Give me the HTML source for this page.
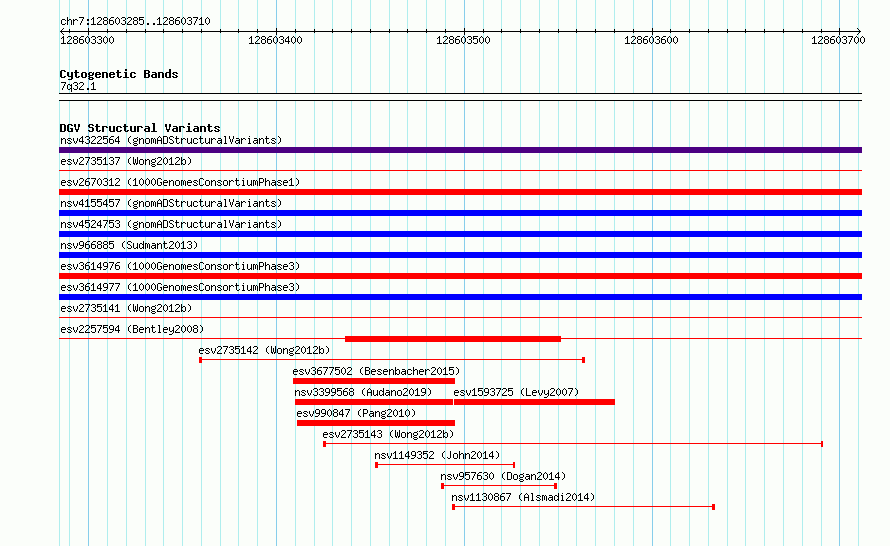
<!DOCTYPE html>
<html lang="en">
<head>
<meta charset="utf-8">
<title>chr7:128603285..128603710</title>
<style>
html,body{margin:0;padding:0;background:#fbfefa}
body{font-family:"Liberation Mono",monospace;overflow:hidden}
#panel{position:relative;width:890px;height:546px;overflow:hidden;background:#fbfefa}
#panel i{position:absolute;display:block}
.grid i{top:0;width:1px;height:546px}
.g{background:#afeeee}
.gm{background:#87ceeb}
.track,.f{margin:0;padding:0}
.t{position:absolute;height:13px;margin:0;padding:0;overflow:hidden;white-space:pre;line-height:13px}
.t svg{position:absolute;left:0;top:0;display:block;fill:#000;shape-rendering:crispEdges}
.t span{position:absolute;left:0;top:0;color:transparent;font-family:"Liberation Mono",monospace;font-size:10px;line-height:13px;font-weight:normal}
.tb span{font-size:11.667px;font-weight:bold}
.axis{position:absolute;height:1px;background:#000}
.d{width:1px;height:1px;background:#000}
.tk{width:1px;background:#000}
.band{position:absolute;box-sizing:content-box;background:#fbfefa;border-top:1px solid #000;border-bottom:1px solid #000}
.k{height:6px}
.n{height:1px}
.r{background:#f00}
.b{background:#00f}
.p{background:#4b0082}
</style>
</head>
<body>
<svg width="0" height="0" style="position:absolute" aria-hidden="true"><defs><path id="s40" d="M3 3h1v1h-1zM2 4h1v1h-1zM1 5h1v1h-1zM1 6h1v1h-1zM1 7h1v1h-1zM1 8h1v1h-1zM2 9h1v1h-1zM3 10h1v1h-1z"/><path id="s41" d="M1 3h1v1h-1zM2 4h1v1h-1zM3 5h1v1h-1zM3 6h1v1h-1zM3 7h1v1h-1zM3 8h1v1h-1zM2 9h1v1h-1zM1 10h1v1h-1z"/><path id="s46" d="M2 9h2v1h-2zM2 10h2v1h-2z"/><path id="s48" d="M2 3h1v1h-1zM1 4h1v1h-1zM3 4h1v1h-1zM0 5h1v1h-1zM4 5h1v1h-1zM0 6h1v1h-1zM4 6h1v1h-1zM0 7h1v1h-1zM4 7h1v1h-1zM0 8h1v1h-1zM4 8h1v1h-1zM1 9h1v1h-1zM3 9h1v1h-1zM2 10h1v1h-1z"/><path id="s49" d="M2 3h1v1h-1zM1 4h2v1h-2zM0 5h1v1h-1zM2 5h1v1h-1zM2 6h1v1h-1zM2 7h1v1h-1zM2 8h1v1h-1zM2 9h1v1h-1zM0 10h5v1h-5z"/><path id="s50" d="M1 3h3v1h-3zM0 4h1v1h-1zM4 4h1v1h-1zM4 5h1v1h-1zM3 6h1v1h-1zM2 7h1v1h-1zM1 8h1v1h-1zM0 9h1v1h-1zM0 10h5v1h-5z"/><path id="s51" d="M1 3h3v1h-3zM0 4h1v1h-1zM4 4h1v1h-1zM4 5h1v1h-1zM2 6h2v1h-2zM4 7h1v1h-1zM4 8h1v1h-1zM0 9h1v1h-1zM4 9h1v1h-1zM1 10h3v1h-3z"/><path id="s52" d="M3 3h1v1h-1zM2 4h2v1h-2zM1 5h1v1h-1zM3 5h1v1h-1zM0 6h1v1h-1zM3 6h1v1h-1zM0 7h1v1h-1zM3 7h1v1h-1zM0 8h5v1h-5zM3 9h1v1h-1zM3 10h1v1h-1z"/><path id="s53" d="M0 3h5v1h-5zM0 4h1v1h-1zM0 5h4v1h-4zM0 6h1v1h-1zM4 6h1v1h-1zM4 7h1v1h-1zM4 8h1v1h-1zM0 9h1v1h-1zM4 9h1v1h-1zM1 10h3v1h-3z"/><path id="s54" d="M2 3h3v1h-3zM1 4h1v1h-1zM0 5h1v1h-1zM0 6h4v1h-4zM0 7h1v1h-1zM4 7h1v1h-1zM0 8h1v1h-1zM4 8h1v1h-1zM0 9h1v1h-1zM4 9h1v1h-1zM1 10h3v1h-3z"/><path id="s55" d="M0 3h5v1h-5zM4 4h1v1h-1zM3 5h1v1h-1zM3 6h1v1h-1zM2 7h1v1h-1zM2 8h1v1h-1zM1 9h1v1h-1zM1 10h1v1h-1z"/><path id="s56" d="M1 3h3v1h-3zM0 4h1v1h-1zM4 4h1v1h-1zM0 5h1v1h-1zM4 5h1v1h-1zM1 6h3v1h-3zM0 7h1v1h-1zM4 7h1v1h-1zM0 8h1v1h-1zM4 8h1v1h-1zM0 9h1v1h-1zM4 9h1v1h-1zM1 10h3v1h-3z"/><path id="s57" d="M1 3h3v1h-3zM0 4h1v1h-1zM4 4h1v1h-1zM0 5h1v1h-1zM4 5h1v1h-1zM0 6h1v1h-1zM4 6h1v1h-1zM1 7h4v1h-4zM4 8h1v1h-1zM3 9h1v1h-1zM0 10h3v1h-3z"/><path id="s58" d="M2 5h2v1h-2zM2 6h2v1h-2zM2 9h2v1h-2zM2 10h2v1h-2z"/><path id="s65" d="M2 3h1v1h-1zM1 4h1v1h-1zM3 4h1v1h-1zM0 5h1v1h-1zM4 5h1v1h-1zM0 6h1v1h-1zM4 6h1v1h-1zM0 7h5v1h-5zM0 8h1v1h-1zM4 8h1v1h-1zM0 9h1v1h-1zM4 9h1v1h-1zM0 10h1v1h-1zM4 10h1v1h-1z"/><path id="s66" d="M0 3h4v1h-4zM0 4h1v1h-1zM4 4h1v1h-1zM0 5h1v1h-1zM4 5h1v1h-1zM0 6h4v1h-4zM0 7h1v1h-1zM4 7h1v1h-1zM0 8h1v1h-1zM4 8h1v1h-1zM0 9h1v1h-1zM4 9h1v1h-1zM0 10h4v1h-4z"/><path id="s67" d="M1 3h3v1h-3zM0 4h1v1h-1zM4 4h1v1h-1zM0 5h1v1h-1zM0 6h1v1h-1zM0 7h1v1h-1zM0 8h1v1h-1zM0 9h1v1h-1zM4 9h1v1h-1zM1 10h3v1h-3z"/><path id="s68" d="M0 3h4v1h-4zM0 4h1v1h-1zM4 4h1v1h-1zM0 5h1v1h-1zM4 5h1v1h-1zM0 6h1v1h-1zM4 6h1v1h-1zM0 7h1v1h-1zM4 7h1v1h-1zM0 8h1v1h-1zM4 8h1v1h-1zM0 9h1v1h-1zM4 9h1v1h-1zM0 10h4v1h-4z"/><path id="s71" d="M1 3h3v1h-3zM0 4h1v1h-1zM4 4h1v1h-1zM0 5h1v1h-1zM0 6h1v1h-1zM0 7h1v1h-1zM3 7h2v1h-2zM0 8h1v1h-1zM4 8h1v1h-1zM0 9h1v1h-1zM4 9h1v1h-1zM1 10h3v1h-3z"/><path id="s74" d="M3 3h1v1h-1zM3 4h1v1h-1zM3 5h1v1h-1zM3 6h1v1h-1zM3 7h1v1h-1zM3 8h1v1h-1zM0 9h1v1h-1zM3 9h1v1h-1zM1 10h2v1h-2z"/><path id="s76" d="M0 3h1v1h-1zM0 4h1v1h-1zM0 5h1v1h-1zM0 6h1v1h-1zM0 7h1v1h-1zM0 8h1v1h-1zM0 9h1v1h-1zM0 10h5v1h-5z"/><path id="s80" d="M0 3h4v1h-4zM0 4h1v1h-1zM4 4h1v1h-1zM0 5h1v1h-1zM4 5h1v1h-1zM0 6h1v1h-1zM4 6h1v1h-1zM0 7h4v1h-4zM0 8h1v1h-1zM0 9h1v1h-1zM0 10h1v1h-1z"/><path id="s83" d="M1 3h3v1h-3zM0 4h1v1h-1zM4 4h1v1h-1zM0 5h1v1h-1zM1 6h2v1h-2zM3 7h1v1h-1zM4 8h1v1h-1zM0 9h1v1h-1zM4 9h1v1h-1zM1 10h3v1h-3z"/><path id="s86" d="M0 3h1v1h-1zM4 3h1v1h-1zM0 4h1v1h-1zM4 4h1v1h-1zM0 5h1v1h-1zM4 5h1v1h-1zM1 6h1v1h-1zM3 6h1v1h-1zM1 7h1v1h-1zM3 7h1v1h-1zM1 8h1v1h-1zM3 8h1v1h-1zM2 9h1v1h-1zM2 10h1v1h-1z"/><path id="s87" d="M0 3h1v1h-1zM4 3h1v1h-1zM0 4h1v1h-1zM4 4h1v1h-1zM0 5h1v1h-1zM2 5h1v1h-1zM4 5h1v1h-1zM0 6h1v1h-1zM2 6h1v1h-1zM4 6h1v1h-1zM0 7h1v1h-1zM2 7h1v1h-1zM4 7h1v1h-1zM0 8h1v1h-1zM2 8h1v1h-1zM4 8h1v1h-1zM0 9h2v1h-2zM3 9h2v1h-2zM1 10h1v1h-1zM3 10h1v1h-1z"/><path id="s97" d="M1 5h3v1h-3zM4 6h1v1h-1zM1 7h4v1h-4zM0 8h1v1h-1zM4 8h1v1h-1zM0 9h1v1h-1zM3 9h2v1h-2zM1 10h2v1h-2zM4 10h1v1h-1z"/><path id="s98" d="M0 3h1v1h-1zM0 4h1v1h-1zM0 5h1v1h-1zM2 5h2v1h-2zM0 6h2v1h-2zM4 6h1v1h-1zM0 7h1v1h-1zM4 7h1v1h-1zM0 8h1v1h-1zM4 8h1v1h-1zM0 9h2v1h-2zM4 9h1v1h-1zM0 10h1v1h-1zM2 10h2v1h-2z"/><path id="s99" d="M1 5h3v1h-3zM0 6h1v1h-1zM4 6h1v1h-1zM0 7h1v1h-1zM0 8h1v1h-1zM0 9h1v1h-1zM4 9h1v1h-1zM1 10h3v1h-3z"/><path id="s100" d="M4 3h1v1h-1zM4 4h1v1h-1zM1 5h2v1h-2zM4 5h1v1h-1zM0 6h1v1h-1zM3 6h2v1h-2zM0 7h1v1h-1zM4 7h1v1h-1zM0 8h1v1h-1zM4 8h1v1h-1zM0 9h1v1h-1zM3 9h2v1h-2zM1 10h2v1h-2zM4 10h1v1h-1z"/><path id="s101" d="M1 5h3v1h-3zM0 6h1v1h-1zM4 6h1v1h-1zM0 7h5v1h-5zM0 8h1v1h-1zM0 9h1v1h-1zM1 10h3v1h-3z"/><path id="s103" d="M4 4h1v1h-1zM1 5h3v1h-3zM0 6h1v1h-1zM4 6h1v1h-1zM0 7h1v1h-1zM4 7h1v1h-1zM1 8h3v1h-3zM0 9h1v1h-1zM1 10h3v1h-3zM0 11h1v1h-1zM4 11h1v1h-1zM1 12h3v1h-3z"/><path id="s104" d="M0 3h1v1h-1zM0 4h1v1h-1zM0 5h1v1h-1zM2 5h2v1h-2zM0 6h2v1h-2zM4 6h1v1h-1zM0 7h1v1h-1zM4 7h1v1h-1zM0 8h1v1h-1zM4 8h1v1h-1zM0 9h1v1h-1zM4 9h1v1h-1zM0 10h1v1h-1zM4 10h1v1h-1z"/><path id="s105" d="M2 3h1v1h-1zM1 5h2v1h-2zM2 6h1v1h-1zM2 7h1v1h-1zM2 8h1v1h-1zM2 9h1v1h-1zM1 10h3v1h-3z"/><path id="s108" d="M1 3h2v1h-2zM2 4h1v1h-1zM2 5h1v1h-1zM2 6h1v1h-1zM2 7h1v1h-1zM2 8h1v1h-1zM2 9h1v1h-1zM1 10h3v1h-3z"/><path id="s109" d="M0 5h2v1h-2zM3 5h1v1h-1zM0 6h1v1h-1zM2 6h1v1h-1zM4 6h1v1h-1zM0 7h1v1h-1zM2 7h1v1h-1zM4 7h1v1h-1zM0 8h1v1h-1zM2 8h1v1h-1zM4 8h1v1h-1zM0 9h1v1h-1zM2 9h1v1h-1zM4 9h1v1h-1zM0 10h1v1h-1zM4 10h1v1h-1z"/><path id="s110" d="M0 5h1v1h-1zM2 5h2v1h-2zM0 6h2v1h-2zM4 6h1v1h-1zM0 7h1v1h-1zM4 7h1v1h-1zM0 8h1v1h-1zM4 8h1v1h-1zM0 9h1v1h-1zM4 9h1v1h-1zM0 10h1v1h-1zM4 10h1v1h-1z"/><path id="s111" d="M1 5h3v1h-3zM0 6h1v1h-1zM4 6h1v1h-1zM0 7h1v1h-1zM4 7h1v1h-1zM0 8h1v1h-1zM4 8h1v1h-1zM0 9h1v1h-1zM4 9h1v1h-1zM1 10h3v1h-3z"/><path id="s113" d="M1 5h2v1h-2zM4 5h1v1h-1zM0 6h1v1h-1zM3 6h2v1h-2zM0 7h1v1h-1zM4 7h1v1h-1zM0 8h1v1h-1zM4 8h1v1h-1zM0 9h1v1h-1zM3 9h2v1h-2zM1 10h2v1h-2zM4 10h1v1h-1zM4 11h1v1h-1zM4 12h1v1h-1z"/><path id="s114" d="M0 5h1v1h-1zM2 5h2v1h-2zM0 6h2v1h-2zM4 6h1v1h-1zM0 7h1v1h-1zM0 8h1v1h-1zM0 9h1v1h-1zM0 10h1v1h-1z"/><path id="s115" d="M1 5h3v1h-3zM0 6h1v1h-1zM4 6h1v1h-1zM1 7h2v1h-2zM3 8h1v1h-1zM0 9h1v1h-1zM4 9h1v1h-1zM1 10h3v1h-3z"/><path id="s116" d="M1 3h1v1h-1zM1 4h1v1h-1zM0 5h4v1h-4zM1 6h1v1h-1zM1 7h1v1h-1zM1 8h1v1h-1zM1 9h1v1h-1zM4 9h1v1h-1zM2 10h2v1h-2z"/><path id="s117" d="M0 5h1v1h-1zM4 5h1v1h-1zM0 6h1v1h-1zM4 6h1v1h-1zM0 7h1v1h-1zM4 7h1v1h-1zM0 8h1v1h-1zM4 8h1v1h-1zM0 9h1v1h-1zM3 9h2v1h-2zM1 10h2v1h-2zM4 10h1v1h-1z"/><path id="s118" d="M0 5h1v1h-1zM4 5h1v1h-1zM0 6h1v1h-1zM4 6h1v1h-1zM0 7h1v1h-1zM4 7h1v1h-1zM1 8h1v1h-1zM3 8h1v1h-1zM1 9h1v1h-1zM3 9h1v1h-1zM2 10h1v1h-1z"/><path id="s121" d="M0 5h1v1h-1zM4 5h1v1h-1zM0 6h1v1h-1zM4 6h1v1h-1zM0 7h1v1h-1zM4 7h1v1h-1zM0 8h1v1h-1zM3 8h2v1h-2zM1 9h2v1h-2zM4 9h1v1h-1zM4 10h1v1h-1zM3 11h1v1h-1zM0 12h3v1h-3z"/><path id="m66" d="M0 3h5v1h-5zM0 4h2v1h-2zM4 4h2v1h-2zM0 5h2v1h-2zM4 5h2v1h-2zM0 6h5v1h-5zM0 7h2v1h-2zM4 7h2v1h-2zM0 8h2v1h-2zM4 8h2v1h-2zM0 9h2v1h-2zM4 9h2v1h-2zM0 10h5v1h-5z"/><path id="m67" d="M1 3h4v1h-4zM0 4h2v1h-2zM4 4h2v1h-2zM0 5h2v1h-2zM0 6h2v1h-2zM0 7h2v1h-2zM0 8h2v1h-2zM0 9h2v1h-2zM4 9h2v1h-2zM1 10h4v1h-4z"/><path id="m68" d="M0 3h5v1h-5zM0 4h2v1h-2zM4 4h2v1h-2zM0 5h2v1h-2zM4 5h2v1h-2zM0 6h2v1h-2zM4 6h2v1h-2zM0 7h2v1h-2zM4 7h2v1h-2zM0 8h2v1h-2zM4 8h2v1h-2zM0 9h2v1h-2zM4 9h2v1h-2zM0 10h5v1h-5z"/><path id="m71" d="M1 3h4v1h-4zM0 4h2v1h-2zM4 4h2v1h-2zM0 5h2v1h-2zM0 6h2v1h-2zM0 7h2v1h-2zM3 7h3v1h-3zM0 8h2v1h-2zM4 8h2v1h-2zM0 9h2v1h-2zM4 9h2v1h-2zM1 10h5v1h-5z"/><path id="m83" d="M1 3h4v1h-4zM0 4h2v1h-2zM4 4h2v1h-2zM0 5h2v1h-2zM1 6h4v1h-4zM4 7h2v1h-2zM4 8h2v1h-2zM0 9h2v1h-2zM4 9h2v1h-2zM1 10h4v1h-4z"/><path id="m86" d="M0 3h2v1h-2zM4 3h2v1h-2zM0 4h2v1h-2zM4 4h2v1h-2zM0 5h2v1h-2zM4 5h2v1h-2zM1 6h1v1h-1zM4 6h1v1h-1zM1 7h1v1h-1zM4 7h1v1h-1zM1 8h4v1h-4zM2 9h2v1h-2zM2 10h2v1h-2z"/><path id="m97" d="M1 5h4v1h-4zM4 6h2v1h-2zM1 7h5v1h-5zM0 8h2v1h-2zM4 8h2v1h-2zM0 9h2v1h-2zM4 9h2v1h-2zM1 10h5v1h-5z"/><path id="m99" d="M1 5h4v1h-4zM0 6h2v1h-2zM4 6h2v1h-2zM0 7h2v1h-2zM0 8h2v1h-2zM0 9h2v1h-2zM4 9h2v1h-2zM1 10h4v1h-4z"/><path id="m100" d="M4 2h2v1h-2zM4 3h2v1h-2zM4 4h2v1h-2zM1 5h5v1h-5zM0 6h2v1h-2zM4 6h2v1h-2zM0 7h2v1h-2zM4 7h2v1h-2zM0 8h2v1h-2zM4 8h2v1h-2zM0 9h2v1h-2zM4 9h2v1h-2zM1 10h5v1h-5z"/><path id="m101" d="M1 5h4v1h-4zM0 6h2v1h-2zM4 6h2v1h-2zM0 7h6v1h-6zM0 8h2v1h-2zM0 9h2v1h-2zM4 9h2v1h-2zM1 10h4v1h-4z"/><path id="m103" d="M1 5h3v1h-3zM5 5h1v1h-1zM0 6h2v1h-2zM4 6h2v1h-2zM0 7h2v1h-2zM4 7h2v1h-2zM1 8h4v1h-4zM0 9h2v1h-2zM1 10h4v1h-4zM0 11h2v1h-2zM4 11h2v1h-2zM1 12h4v1h-4z"/><path id="m105" d="M2 2h2v1h-2zM2 3h2v1h-2zM1 5h3v1h-3zM2 6h2v1h-2zM2 7h2v1h-2zM2 8h2v1h-2zM2 9h2v1h-2zM0 10h6v1h-6z"/><path id="m108" d="M1 2h3v1h-3zM2 3h2v1h-2zM2 4h2v1h-2zM2 5h2v1h-2zM2 6h2v1h-2zM2 7h2v1h-2zM2 8h2v1h-2zM2 9h2v1h-2zM0 10h6v1h-6z"/><path id="m110" d="M0 5h5v1h-5zM0 6h2v1h-2zM4 6h2v1h-2zM0 7h2v1h-2zM4 7h2v1h-2zM0 8h2v1h-2zM4 8h2v1h-2zM0 9h2v1h-2zM4 9h2v1h-2zM0 10h2v1h-2zM4 10h2v1h-2z"/><path id="m111" d="M1 5h4v1h-4zM0 6h2v1h-2zM4 6h2v1h-2zM0 7h2v1h-2zM4 7h2v1h-2zM0 8h2v1h-2zM4 8h2v1h-2zM0 9h2v1h-2zM4 9h2v1h-2zM1 10h4v1h-4z"/><path id="m114" d="M0 5h5v1h-5zM0 6h2v1h-2zM4 6h2v1h-2zM0 7h2v1h-2zM0 8h2v1h-2zM0 9h2v1h-2zM0 10h2v1h-2z"/><path id="m115" d="M1 5h4v1h-4zM0 6h2v1h-2zM4 6h2v1h-2zM1 7h2v1h-2zM3 8h2v1h-2zM0 9h2v1h-2zM4 9h2v1h-2zM1 10h4v1h-4z"/><path id="m116" d="M1 3h2v1h-2zM1 4h2v1h-2zM0 5h5v1h-5zM1 6h2v1h-2zM1 7h2v1h-2zM1 8h2v1h-2zM1 9h2v1h-2zM4 9h2v1h-2zM2 10h3v1h-3z"/><path id="m117" d="M0 5h2v1h-2zM4 5h2v1h-2zM0 6h2v1h-2zM4 6h2v1h-2zM0 7h2v1h-2zM4 7h2v1h-2zM0 8h2v1h-2zM4 8h2v1h-2zM0 9h2v1h-2zM4 9h2v1h-2zM1 10h5v1h-5z"/><path id="m121" d="M0 5h2v1h-2zM4 5h2v1h-2zM0 6h2v1h-2zM4 6h2v1h-2zM0 7h2v1h-2zM4 7h2v1h-2zM0 8h2v1h-2zM4 8h2v1h-2zM1 9h5v1h-5zM4 10h2v1h-2zM4 11h2v1h-2zM1 12h4v1h-4z"/></defs></svg>
<div id="panel">
<div class="grid">
<i class="g" style="left:59px"></i>
<i class="g" style="left:69px"></i>
<i class="gm" style="left:88px"></i>
<i class="g" style="left:107px"></i>
<i class="g" style="left:126px"></i>
<i class="g" style="left:145px"></i>
<i class="g" style="left:163px"></i>
<i class="g" style="left:182px"></i>
<i class="g" style="left:201px"></i>
<i class="g" style="left:220px"></i>
<i class="g" style="left:238px"></i>
<i class="g" style="left:257px"></i>
<i class="gm" style="left:276px"></i>
<i class="g" style="left:295px"></i>
<i class="g" style="left:314px"></i>
<i class="g" style="left:332px"></i>
<i class="g" style="left:351px"></i>
<i class="g" style="left:370px"></i>
<i class="g" style="left:389px"></i>
<i class="g" style="left:407px"></i>
<i class="g" style="left:426px"></i>
<i class="g" style="left:445px"></i>
<i class="gm" style="left:464px"></i>
<i class="g" style="left:483px"></i>
<i class="g" style="left:501px"></i>
<i class="g" style="left:520px"></i>
<i class="g" style="left:539px"></i>
<i class="g" style="left:558px"></i>
<i class="g" style="left:576px"></i>
<i class="g" style="left:595px"></i>
<i class="g" style="left:614px"></i>
<i class="g" style="left:633px"></i>
<i class="gm" style="left:652px"></i>
<i class="g" style="left:670px"></i>
<i class="g" style="left:689px"></i>
<i class="g" style="left:708px"></i>
<i class="g" style="left:727px"></i>
<i class="g" style="left:745px"></i>
<i class="g" style="left:764px"></i>
<i class="g" style="left:783px"></i>
<i class="g" style="left:802px"></i>
<i class="g" style="left:821px"></i>
<i class="gm" style="left:839px"></i>
<i class="g" style="left:858px"></i>
</div>
<section class="track ruler">
<div class="t ts" style="left:61px;top:14px;width:150px"><svg width="150" height="13" viewBox="0 0 150 13"><use href="#s99" x="0"/><use href="#s104" x="6"/><use href="#s114" x="12"/><use href="#s55" x="18"/><use href="#s58" x="24"/><use href="#s49" x="30"/><use href="#s50" x="36"/><use href="#s56" x="42"/><use href="#s54" x="48"/><use href="#s48" x="54"/><use href="#s51" x="60"/><use href="#s50" x="66"/><use href="#s56" x="72"/><use href="#s53" x="78"/><use href="#s46" x="84"/><use href="#s46" x="90"/><use href="#s49" x="96"/><use href="#s50" x="102"/><use href="#s56" x="108"/><use href="#s54" x="114"/><use href="#s48" x="120"/><use href="#s51" x="126"/><use href="#s55" x="132"/><use href="#s49" x="138"/><use href="#s48" x="144"/></svg><span>chr7:128603285..128603710</span></div>
<div class="axis" style="left:60px;top:31px;width:801px"></div>
<i class="d" style="left:61px;top:30px"></i>
<i class="d" style="left:61px;top:32px"></i>
<i class="d" style="left:859px;top:30px"></i>
<i class="d" style="left:859px;top:32px"></i>
<i class="d" style="left:62px;top:29px"></i>
<i class="d" style="left:62px;top:33px"></i>
<i class="d" style="left:858px;top:29px"></i>
<i class="d" style="left:858px;top:33px"></i>
<i class="d" style="left:63px;top:28px"></i>
<i class="d" style="left:63px;top:34px"></i>
<i class="d" style="left:857px;top:28px"></i>
<i class="d" style="left:857px;top:34px"></i>
<i class="tk" style="left:69px;top:29px;height:4px"></i>
<i class="tk" style="left:88px;top:28px;height:7px"></i>
<i class="tk" style="left:107px;top:29px;height:4px"></i>
<i class="tk" style="left:126px;top:29px;height:4px"></i>
<i class="tk" style="left:145px;top:29px;height:4px"></i>
<i class="tk" style="left:163px;top:29px;height:4px"></i>
<i class="tk" style="left:182px;top:29px;height:4px"></i>
<i class="tk" style="left:201px;top:29px;height:4px"></i>
<i class="tk" style="left:220px;top:29px;height:4px"></i>
<i class="tk" style="left:238px;top:29px;height:4px"></i>
<i class="tk" style="left:257px;top:29px;height:4px"></i>
<i class="tk" style="left:276px;top:28px;height:7px"></i>
<i class="tk" style="left:295px;top:29px;height:4px"></i>
<i class="tk" style="left:314px;top:29px;height:4px"></i>
<i class="tk" style="left:332px;top:29px;height:4px"></i>
<i class="tk" style="left:351px;top:29px;height:4px"></i>
<i class="tk" style="left:370px;top:29px;height:4px"></i>
<i class="tk" style="left:389px;top:29px;height:4px"></i>
<i class="tk" style="left:407px;top:29px;height:4px"></i>
<i class="tk" style="left:426px;top:29px;height:4px"></i>
<i class="tk" style="left:445px;top:29px;height:4px"></i>
<i class="tk" style="left:464px;top:28px;height:7px"></i>
<i class="tk" style="left:483px;top:29px;height:4px"></i>
<i class="tk" style="left:501px;top:29px;height:4px"></i>
<i class="tk" style="left:520px;top:29px;height:4px"></i>
<i class="tk" style="left:539px;top:29px;height:4px"></i>
<i class="tk" style="left:558px;top:29px;height:4px"></i>
<i class="tk" style="left:576px;top:29px;height:4px"></i>
<i class="tk" style="left:595px;top:29px;height:4px"></i>
<i class="tk" style="left:614px;top:29px;height:4px"></i>
<i class="tk" style="left:633px;top:29px;height:4px"></i>
<i class="tk" style="left:652px;top:28px;height:7px"></i>
<i class="tk" style="left:670px;top:29px;height:4px"></i>
<i class="tk" style="left:689px;top:29px;height:4px"></i>
<i class="tk" style="left:708px;top:29px;height:4px"></i>
<i class="tk" style="left:727px;top:29px;height:4px"></i>
<i class="tk" style="left:745px;top:29px;height:4px"></i>
<i class="tk" style="left:764px;top:29px;height:4px"></i>
<i class="tk" style="left:783px;top:29px;height:4px"></i>
<i class="tk" style="left:802px;top:29px;height:4px"></i>
<i class="tk" style="left:821px;top:29px;height:4px"></i>
<i class="tk" style="left:839px;top:28px;height:7px"></i>
<div class="t ts" style="left:61px;top:33px;width:54px"><svg width="54" height="13" viewBox="0 0 54 13"><use href="#s49" x="0"/><use href="#s50" x="6"/><use href="#s56" x="12"/><use href="#s54" x="18"/><use href="#s48" x="24"/><use href="#s51" x="30"/><use href="#s51" x="36"/><use href="#s48" x="42"/><use href="#s48" x="48"/></svg><span>128603300</span></div>
<div class="t ts" style="left:249px;top:33px;width:54px"><svg width="54" height="13" viewBox="0 0 54 13"><use href="#s49" x="0"/><use href="#s50" x="6"/><use href="#s56" x="12"/><use href="#s54" x="18"/><use href="#s48" x="24"/><use href="#s51" x="30"/><use href="#s52" x="36"/><use href="#s48" x="42"/><use href="#s48" x="48"/></svg><span>128603400</span></div>
<div class="t ts" style="left:437px;top:33px;width:54px"><svg width="54" height="13" viewBox="0 0 54 13"><use href="#s49" x="0"/><use href="#s50" x="6"/><use href="#s56" x="12"/><use href="#s54" x="18"/><use href="#s48" x="24"/><use href="#s51" x="30"/><use href="#s53" x="36"/><use href="#s48" x="42"/><use href="#s48" x="48"/></svg><span>128603500</span></div>
<div class="t ts" style="left:625px;top:33px;width:54px"><svg width="54" height="13" viewBox="0 0 54 13"><use href="#s49" x="0"/><use href="#s50" x="6"/><use href="#s56" x="12"/><use href="#s54" x="18"/><use href="#s48" x="24"/><use href="#s51" x="30"/><use href="#s54" x="36"/><use href="#s48" x="42"/><use href="#s48" x="48"/></svg><span>128603600</span></div>
<div class="t ts" style="left:812px;top:33px;width:54px"><svg width="54" height="13" viewBox="0 0 54 13"><use href="#s49" x="0"/><use href="#s50" x="6"/><use href="#s56" x="12"/><use href="#s54" x="18"/><use href="#s48" x="24"/><use href="#s51" x="30"/><use href="#s55" x="36"/><use href="#s48" x="42"/><use href="#s48" x="48"/></svg><span>128603700</span></div>
</section>
<section class="track cyto">
<h2 class="t tb" style="left:60px;top:67px;width:119px"><svg width="119" height="13" viewBox="0 0 119 13"><use href="#m67" x="0"/><use href="#m121" x="7"/><use href="#m116" x="14"/><use href="#m111" x="21"/><use href="#m103" x="28"/><use href="#m101" x="35"/><use href="#m110" x="42"/><use href="#m101" x="49"/><use href="#m116" x="56"/><use href="#m105" x="63"/><use href="#m99" x="70"/><use href="#m66" x="84"/><use href="#m97" x="91"/><use href="#m110" x="98"/><use href="#m100" x="105"/><use href="#m115" x="112"/></svg><span>Cytogenetic Bands</span></h2>
<div class="t ts" style="left:61px;top:79px;width:36px"><svg width="36" height="13" viewBox="0 0 36 13"><use href="#s55" x="0"/><use href="#s113" x="6"/><use href="#s51" x="12"/><use href="#s50" x="18"/><use href="#s46" x="24"/><use href="#s49" x="30"/></svg><span>7q32.1</span></div>
<div class="band" style="left:59px;top:93px;width:803px;height:6px"></div>
</section>
<section class="track dgv">
<h2 class="t tb" style="left:60px;top:121px;width:161px"><svg width="161" height="13" viewBox="0 0 161 13"><use href="#m68" x="0"/><use href="#m71" x="7"/><use href="#m86" x="14"/><use href="#m83" x="28"/><use href="#m116" x="35"/><use href="#m114" x="42"/><use href="#m117" x="49"/><use href="#m99" x="56"/><use href="#m116" x="63"/><use href="#m117" x="70"/><use href="#m114" x="77"/><use href="#m97" x="84"/><use href="#m108" x="91"/><use href="#m86" x="105"/><use href="#m97" x="112"/><use href="#m114" x="119"/><use href="#m105" x="126"/><use href="#m97" x="133"/><use href="#m110" x="140"/><use href="#m116" x="147"/><use href="#m115" x="154"/></svg><span>DGV Structural Variants</span></h2>
<div class="f">
<div class="t ts" style="left:61px;top:133px;width:222px"><svg width="222" height="13" viewBox="0 0 222 13"><use href="#s110" x="0"/><use href="#s115" x="6"/><use href="#s118" x="12"/><use href="#s52" x="18"/><use href="#s51" x="24"/><use href="#s50" x="30"/><use href="#s50" x="36"/><use href="#s53" x="42"/><use href="#s54" x="48"/><use href="#s52" x="54"/><use href="#s40" x="66"/><use href="#s103" x="72"/><use href="#s110" x="78"/><use href="#s111" x="84"/><use href="#s109" x="90"/><use href="#s65" x="96"/><use href="#s68" x="102"/><use href="#s83" x="108"/><use href="#s116" x="114"/><use href="#s114" x="120"/><use href="#s117" x="126"/><use href="#s99" x="132"/><use href="#s116" x="138"/><use href="#s117" x="144"/><use href="#s114" x="150"/><use href="#s97" x="156"/><use href="#s108" x="162"/><use href="#s86" x="168"/><use href="#s97" x="174"/><use href="#s114" x="180"/><use href="#s105" x="186"/><use href="#s97" x="192"/><use href="#s110" x="198"/><use href="#s116" x="204"/><use href="#s115" x="210"/><use href="#s41" x="216"/></svg><span>nsv4322564 (gnomADStructuralVariants)</span></div>
<i class="k p" style="left:59px;top:147px;width:803px"></i>
</div>
<div class="f">
<div class="t ts" style="left:61px;top:154px;width:132px"><svg width="132" height="13" viewBox="0 0 132 13"><use href="#s101" x="0"/><use href="#s115" x="6"/><use href="#s118" x="12"/><use href="#s50" x="18"/><use href="#s55" x="24"/><use href="#s51" x="30"/><use href="#s53" x="36"/><use href="#s49" x="42"/><use href="#s51" x="48"/><use href="#s55" x="54"/><use href="#s40" x="66"/><use href="#s87" x="72"/><use href="#s111" x="78"/><use href="#s110" x="84"/><use href="#s103" x="90"/><use href="#s50" x="96"/><use href="#s48" x="102"/><use href="#s49" x="108"/><use href="#s50" x="114"/><use href="#s98" x="120"/><use href="#s41" x="126"/></svg><span>esv2735137 (Wong2012b)</span></div>
<i class="n r" style="left:59px;top:170px;width:803px"></i>
</div>
<div class="f">
<div class="t ts" style="left:61px;top:175px;width:240px"><svg width="240" height="13" viewBox="0 0 240 13"><use href="#s101" x="0"/><use href="#s115" x="6"/><use href="#s118" x="12"/><use href="#s50" x="18"/><use href="#s54" x="24"/><use href="#s55" x="30"/><use href="#s48" x="36"/><use href="#s51" x="42"/><use href="#s49" x="48"/><use href="#s50" x="54"/><use href="#s40" x="66"/><use href="#s49" x="72"/><use href="#s48" x="78"/><use href="#s48" x="84"/><use href="#s48" x="90"/><use href="#s71" x="96"/><use href="#s101" x="102"/><use href="#s110" x="108"/><use href="#s111" x="114"/><use href="#s109" x="120"/><use href="#s101" x="126"/><use href="#s115" x="132"/><use href="#s67" x="138"/><use href="#s111" x="144"/><use href="#s110" x="150"/><use href="#s115" x="156"/><use href="#s111" x="162"/><use href="#s114" x="168"/><use href="#s116" x="174"/><use href="#s105" x="180"/><use href="#s117" x="186"/><use href="#s109" x="192"/><use href="#s80" x="198"/><use href="#s104" x="204"/><use href="#s97" x="210"/><use href="#s115" x="216"/><use href="#s101" x="222"/><use href="#s49" x="228"/><use href="#s41" x="234"/></svg><span>esv2670312 (1000GenomesConsortiumPhase1)</span></div>
<i class="k r" style="left:59px;top:189px;width:803px"></i>
</div>
<div class="f">
<div class="t ts" style="left:61px;top:196px;width:222px"><svg width="222" height="13" viewBox="0 0 222 13"><use href="#s110" x="0"/><use href="#s115" x="6"/><use href="#s118" x="12"/><use href="#s52" x="18"/><use href="#s49" x="24"/><use href="#s53" x="30"/><use href="#s53" x="36"/><use href="#s52" x="42"/><use href="#s53" x="48"/><use href="#s55" x="54"/><use href="#s40" x="66"/><use href="#s103" x="72"/><use href="#s110" x="78"/><use href="#s111" x="84"/><use href="#s109" x="90"/><use href="#s65" x="96"/><use href="#s68" x="102"/><use href="#s83" x="108"/><use href="#s116" x="114"/><use href="#s114" x="120"/><use href="#s117" x="126"/><use href="#s99" x="132"/><use href="#s116" x="138"/><use href="#s117" x="144"/><use href="#s114" x="150"/><use href="#s97" x="156"/><use href="#s108" x="162"/><use href="#s86" x="168"/><use href="#s97" x="174"/><use href="#s114" x="180"/><use href="#s105" x="186"/><use href="#s97" x="192"/><use href="#s110" x="198"/><use href="#s116" x="204"/><use href="#s115" x="210"/><use href="#s41" x="216"/></svg><span>nsv4155457 (gnomADStructuralVariants)</span></div>
<i class="k b" style="left:59px;top:210px;width:803px"></i>
</div>
<div class="f">
<div class="t ts" style="left:61px;top:217px;width:222px"><svg width="222" height="13" viewBox="0 0 222 13"><use href="#s110" x="0"/><use href="#s115" x="6"/><use href="#s118" x="12"/><use href="#s52" x="18"/><use href="#s53" x="24"/><use href="#s50" x="30"/><use href="#s52" x="36"/><use href="#s55" x="42"/><use href="#s53" x="48"/><use href="#s51" x="54"/><use href="#s40" x="66"/><use href="#s103" x="72"/><use href="#s110" x="78"/><use href="#s111" x="84"/><use href="#s109" x="90"/><use href="#s65" x="96"/><use href="#s68" x="102"/><use href="#s83" x="108"/><use href="#s116" x="114"/><use href="#s114" x="120"/><use href="#s117" x="126"/><use href="#s99" x="132"/><use href="#s116" x="138"/><use href="#s117" x="144"/><use href="#s114" x="150"/><use href="#s97" x="156"/><use href="#s108" x="162"/><use href="#s86" x="168"/><use href="#s97" x="174"/><use href="#s114" x="180"/><use href="#s105" x="186"/><use href="#s97" x="192"/><use href="#s110" x="198"/><use href="#s116" x="204"/><use href="#s115" x="210"/><use href="#s41" x="216"/></svg><span>nsv4524753 (gnomADStructuralVariants)</span></div>
<i class="k b" style="left:59px;top:231px;width:803px"></i>
</div>
<div class="f">
<div class="t ts" style="left:61px;top:238px;width:138px"><svg width="138" height="13" viewBox="0 0 138 13"><use href="#s110" x="0"/><use href="#s115" x="6"/><use href="#s118" x="12"/><use href="#s57" x="18"/><use href="#s54" x="24"/><use href="#s54" x="30"/><use href="#s56" x="36"/><use href="#s56" x="42"/><use href="#s53" x="48"/><use href="#s40" x="60"/><use href="#s83" x="66"/><use href="#s117" x="72"/><use href="#s100" x="78"/><use href="#s109" x="84"/><use href="#s97" x="90"/><use href="#s110" x="96"/><use href="#s116" x="102"/><use href="#s50" x="108"/><use href="#s48" x="114"/><use href="#s49" x="120"/><use href="#s51" x="126"/><use href="#s41" x="132"/></svg><span>nsv966885 (Sudmant2013)</span></div>
<i class="k b" style="left:59px;top:252px;width:803px"></i>
</div>
<div class="f">
<div class="t ts" style="left:61px;top:259px;width:240px"><svg width="240" height="13" viewBox="0 0 240 13"><use href="#s101" x="0"/><use href="#s115" x="6"/><use href="#s118" x="12"/><use href="#s51" x="18"/><use href="#s54" x="24"/><use href="#s49" x="30"/><use href="#s52" x="36"/><use href="#s57" x="42"/><use href="#s55" x="48"/><use href="#s54" x="54"/><use href="#s40" x="66"/><use href="#s49" x="72"/><use href="#s48" x="78"/><use href="#s48" x="84"/><use href="#s48" x="90"/><use href="#s71" x="96"/><use href="#s101" x="102"/><use href="#s110" x="108"/><use href="#s111" x="114"/><use href="#s109" x="120"/><use href="#s101" x="126"/><use href="#s115" x="132"/><use href="#s67" x="138"/><use href="#s111" x="144"/><use href="#s110" x="150"/><use href="#s115" x="156"/><use href="#s111" x="162"/><use href="#s114" x="168"/><use href="#s116" x="174"/><use href="#s105" x="180"/><use href="#s117" x="186"/><use href="#s109" x="192"/><use href="#s80" x="198"/><use href="#s104" x="204"/><use href="#s97" x="210"/><use href="#s115" x="216"/><use href="#s101" x="222"/><use href="#s51" x="228"/><use href="#s41" x="234"/></svg><span>esv3614976 (1000GenomesConsortiumPhase3)</span></div>
<i class="k r" style="left:59px;top:273px;width:803px"></i>
</div>
<div class="f">
<div class="t ts" style="left:61px;top:280px;width:240px"><svg width="240" height="13" viewBox="0 0 240 13"><use href="#s101" x="0"/><use href="#s115" x="6"/><use href="#s118" x="12"/><use href="#s51" x="18"/><use href="#s54" x="24"/><use href="#s49" x="30"/><use href="#s52" x="36"/><use href="#s57" x="42"/><use href="#s55" x="48"/><use href="#s55" x="54"/><use href="#s40" x="66"/><use href="#s49" x="72"/><use href="#s48" x="78"/><use href="#s48" x="84"/><use href="#s48" x="90"/><use href="#s71" x="96"/><use href="#s101" x="102"/><use href="#s110" x="108"/><use href="#s111" x="114"/><use href="#s109" x="120"/><use href="#s101" x="126"/><use href="#s115" x="132"/><use href="#s67" x="138"/><use href="#s111" x="144"/><use href="#s110" x="150"/><use href="#s115" x="156"/><use href="#s111" x="162"/><use href="#s114" x="168"/><use href="#s116" x="174"/><use href="#s105" x="180"/><use href="#s117" x="186"/><use href="#s109" x="192"/><use href="#s80" x="198"/><use href="#s104" x="204"/><use href="#s97" x="210"/><use href="#s115" x="216"/><use href="#s101" x="222"/><use href="#s51" x="228"/><use href="#s41" x="234"/></svg><span>esv3614977 (1000GenomesConsortiumPhase3)</span></div>
<i class="k b" style="left:59px;top:294px;width:803px"></i>
</div>
<div class="f">
<div class="t ts" style="left:61px;top:301px;width:132px"><svg width="132" height="13" viewBox="0 0 132 13"><use href="#s101" x="0"/><use href="#s115" x="6"/><use href="#s118" x="12"/><use href="#s50" x="18"/><use href="#s55" x="24"/><use href="#s51" x="30"/><use href="#s53" x="36"/><use href="#s49" x="42"/><use href="#s52" x="48"/><use href="#s49" x="54"/><use href="#s40" x="66"/><use href="#s87" x="72"/><use href="#s111" x="78"/><use href="#s110" x="84"/><use href="#s103" x="90"/><use href="#s50" x="96"/><use href="#s48" x="102"/><use href="#s49" x="108"/><use href="#s50" x="114"/><use href="#s98" x="120"/><use href="#s41" x="126"/></svg><span>esv2735141 (Wong2012b)</span></div>
<i class="n r" style="left:59px;top:317px;width:803px"></i>
</div>
<div class="f">
<div class="t ts" style="left:61px;top:322px;width:144px"><svg width="144" height="13" viewBox="0 0 144 13"><use href="#s101" x="0"/><use href="#s115" x="6"/><use href="#s118" x="12"/><use href="#s50" x="18"/><use href="#s50" x="24"/><use href="#s53" x="30"/><use href="#s55" x="36"/><use href="#s53" x="42"/><use href="#s57" x="48"/><use href="#s52" x="54"/><use href="#s40" x="66"/><use href="#s66" x="72"/><use href="#s101" x="78"/><use href="#s110" x="84"/><use href="#s116" x="90"/><use href="#s108" x="96"/><use href="#s101" x="102"/><use href="#s121" x="108"/><use href="#s50" x="114"/><use href="#s48" x="120"/><use href="#s48" x="126"/><use href="#s56" x="132"/><use href="#s41" x="138"/></svg><span>esv2257594 (Bentley2008)</span></div>
<i class="n r" style="left:59px;top:338px;width:803px"></i>
<i class="k r" style="left:345px;top:336px;width:216px"></i>
</div>
<div class="f">
<div class="t ts" style="left:199px;top:343px;width:132px"><svg width="132" height="13" viewBox="0 0 132 13"><use href="#s101" x="0"/><use href="#s115" x="6"/><use href="#s118" x="12"/><use href="#s50" x="18"/><use href="#s55" x="24"/><use href="#s51" x="30"/><use href="#s53" x="36"/><use href="#s49" x="42"/><use href="#s52" x="48"/><use href="#s50" x="54"/><use href="#s40" x="66"/><use href="#s87" x="72"/><use href="#s111" x="78"/><use href="#s110" x="84"/><use href="#s103" x="90"/><use href="#s50" x="96"/><use href="#s48" x="102"/><use href="#s49" x="108"/><use href="#s50" x="114"/><use href="#s98" x="120"/><use href="#s41" x="126"/></svg><span>esv2735142 (Wong2012b)</span></div>
<i class="n r" style="left:199px;top:359px;width:386px"></i>
<i class="k r" style="left:199px;top:357px;width:3px"></i>
<i class="k r" style="left:582px;top:357px;width:3px"></i>
</div>
<div class="f">
<div class="t ts" style="left:293px;top:364px;width:168px"><svg width="168" height="13" viewBox="0 0 168 13"><use href="#s101" x="0"/><use href="#s115" x="6"/><use href="#s118" x="12"/><use href="#s51" x="18"/><use href="#s54" x="24"/><use href="#s55" x="30"/><use href="#s55" x="36"/><use href="#s53" x="42"/><use href="#s48" x="48"/><use href="#s50" x="54"/><use href="#s40" x="66"/><use href="#s66" x="72"/><use href="#s101" x="78"/><use href="#s115" x="84"/><use href="#s101" x="90"/><use href="#s110" x="96"/><use href="#s98" x="102"/><use href="#s97" x="108"/><use href="#s99" x="114"/><use href="#s104" x="120"/><use href="#s101" x="126"/><use href="#s114" x="132"/><use href="#s50" x="138"/><use href="#s48" x="144"/><use href="#s49" x="150"/><use href="#s53" x="156"/><use href="#s41" x="162"/></svg><span>esv3677502 (Besenbacher2015)</span></div>
<i class="k r" style="left:293px;top:378px;width:162px"></i>
</div>
<div class="f">
<div class="t ts" style="left:295px;top:385px;width:138px"><svg width="138" height="13" viewBox="0 0 138 13"><use href="#s110" x="0"/><use href="#s115" x="6"/><use href="#s118" x="12"/><use href="#s51" x="18"/><use href="#s51" x="24"/><use href="#s57" x="30"/><use href="#s57" x="36"/><use href="#s53" x="42"/><use href="#s54" x="48"/><use href="#s56" x="54"/><use href="#s40" x="66"/><use href="#s65" x="72"/><use href="#s117" x="78"/><use href="#s100" x="84"/><use href="#s97" x="90"/><use href="#s110" x="96"/><use href="#s111" x="102"/><use href="#s50" x="108"/><use href="#s48" x="114"/><use href="#s49" x="120"/><use href="#s57" x="126"/><use href="#s41" x="132"/></svg><span>nsv3399568 (Audano2019)</span></div>
<i class="k r" style="left:295px;top:399px;width:158px"></i>
</div>
<div class="f">
<div class="t ts" style="left:454px;top:385px;width:126px"><svg width="126" height="13" viewBox="0 0 126 13"><use href="#s101" x="0"/><use href="#s115" x="6"/><use href="#s118" x="12"/><use href="#s49" x="18"/><use href="#s53" x="24"/><use href="#s57" x="30"/><use href="#s51" x="36"/><use href="#s55" x="42"/><use href="#s50" x="48"/><use href="#s53" x="54"/><use href="#s40" x="66"/><use href="#s76" x="72"/><use href="#s101" x="78"/><use href="#s118" x="84"/><use href="#s121" x="90"/><use href="#s50" x="96"/><use href="#s48" x="102"/><use href="#s48" x="108"/><use href="#s55" x="114"/><use href="#s41" x="120"/></svg><span>esv1593725 (Levy2007)</span></div>
<i class="k r" style="left:454px;top:399px;width:161px"></i>
</div>
<div class="f">
<div class="t ts" style="left:297px;top:406px;width:120px"><svg width="120" height="13" viewBox="0 0 120 13"><use href="#s101" x="0"/><use href="#s115" x="6"/><use href="#s118" x="12"/><use href="#s57" x="18"/><use href="#s57" x="24"/><use href="#s48" x="30"/><use href="#s56" x="36"/><use href="#s52" x="42"/><use href="#s55" x="48"/><use href="#s40" x="60"/><use href="#s80" x="66"/><use href="#s97" x="72"/><use href="#s110" x="78"/><use href="#s103" x="84"/><use href="#s50" x="90"/><use href="#s48" x="96"/><use href="#s49" x="102"/><use href="#s48" x="108"/><use href="#s41" x="114"/></svg><span>esv990847 (Pang2010)</span></div>
<i class="k r" style="left:297px;top:420px;width:158px"></i>
</div>
<div class="f">
<div class="t ts" style="left:323px;top:427px;width:132px"><svg width="132" height="13" viewBox="0 0 132 13"><use href="#s101" x="0"/><use href="#s115" x="6"/><use href="#s118" x="12"/><use href="#s50" x="18"/><use href="#s55" x="24"/><use href="#s51" x="30"/><use href="#s53" x="36"/><use href="#s49" x="42"/><use href="#s52" x="48"/><use href="#s51" x="54"/><use href="#s40" x="66"/><use href="#s87" x="72"/><use href="#s111" x="78"/><use href="#s110" x="84"/><use href="#s103" x="90"/><use href="#s50" x="96"/><use href="#s48" x="102"/><use href="#s49" x="108"/><use href="#s50" x="114"/><use href="#s98" x="120"/><use href="#s41" x="126"/></svg><span>esv2735143 (Wong2012b)</span></div>
<i class="n r" style="left:323px;top:443px;width:500px"></i>
<i class="k r" style="left:323px;top:441px;width:3px"></i>
<i class="k r" style="left:821px;top:441px;width:2px"></i>
</div>
<div class="f">
<div class="t ts" style="left:375px;top:448px;width:126px"><svg width="126" height="13" viewBox="0 0 126 13"><use href="#s110" x="0"/><use href="#s115" x="6"/><use href="#s118" x="12"/><use href="#s49" x="18"/><use href="#s49" x="24"/><use href="#s52" x="30"/><use href="#s57" x="36"/><use href="#s51" x="42"/><use href="#s53" x="48"/><use href="#s50" x="54"/><use href="#s40" x="66"/><use href="#s74" x="72"/><use href="#s111" x="78"/><use href="#s104" x="84"/><use href="#s110" x="90"/><use href="#s50" x="96"/><use href="#s48" x="102"/><use href="#s49" x="108"/><use href="#s52" x="114"/><use href="#s41" x="120"/></svg><span>nsv1149352 (John2014)</span></div>
<i class="n r" style="left:375px;top:464px;width:140px"></i>
<i class="k r" style="left:375px;top:462px;width:3px"></i>
<i class="k r" style="left:513px;top:462px;width:2px"></i>
</div>
<div class="f">
<div class="t ts" style="left:441px;top:469px;width:126px"><svg width="126" height="13" viewBox="0 0 126 13"><use href="#s110" x="0"/><use href="#s115" x="6"/><use href="#s118" x="12"/><use href="#s57" x="18"/><use href="#s53" x="24"/><use href="#s55" x="30"/><use href="#s54" x="36"/><use href="#s51" x="42"/><use href="#s48" x="48"/><use href="#s40" x="60"/><use href="#s68" x="66"/><use href="#s111" x="72"/><use href="#s103" x="78"/><use href="#s97" x="84"/><use href="#s110" x="90"/><use href="#s50" x="96"/><use href="#s48" x="102"/><use href="#s49" x="108"/><use href="#s52" x="114"/><use href="#s41" x="120"/></svg><span>nsv957630 (Dogan2014)</span></div>
<i class="n r" style="left:441px;top:485px;width:116px"></i>
<i class="k r" style="left:441px;top:483px;width:3px"></i>
<i class="k r" style="left:554px;top:483px;width:3px"></i>
</div>
<div class="f">
<div class="t ts" style="left:452px;top:490px;width:144px"><svg width="144" height="13" viewBox="0 0 144 13"><use href="#s110" x="0"/><use href="#s115" x="6"/><use href="#s118" x="12"/><use href="#s49" x="18"/><use href="#s49" x="24"/><use href="#s51" x="30"/><use href="#s48" x="36"/><use href="#s56" x="42"/><use href="#s54" x="48"/><use href="#s55" x="54"/><use href="#s40" x="66"/><use href="#s65" x="72"/><use href="#s108" x="78"/><use href="#s115" x="84"/><use href="#s109" x="90"/><use href="#s97" x="96"/><use href="#s100" x="102"/><use href="#s105" x="108"/><use href="#s50" x="114"/><use href="#s48" x="120"/><use href="#s49" x="126"/><use href="#s52" x="132"/><use href="#s41" x="138"/></svg><span>nsv1130867 (Alsmadi2014)</span></div>
<i class="n r" style="left:452px;top:506px;width:263px"></i>
<i class="k r" style="left:452px;top:504px;width:3px"></i>
<i class="k r" style="left:712px;top:504px;width:3px"></i>
</div>
</section>
</div>
</body>
</html>
